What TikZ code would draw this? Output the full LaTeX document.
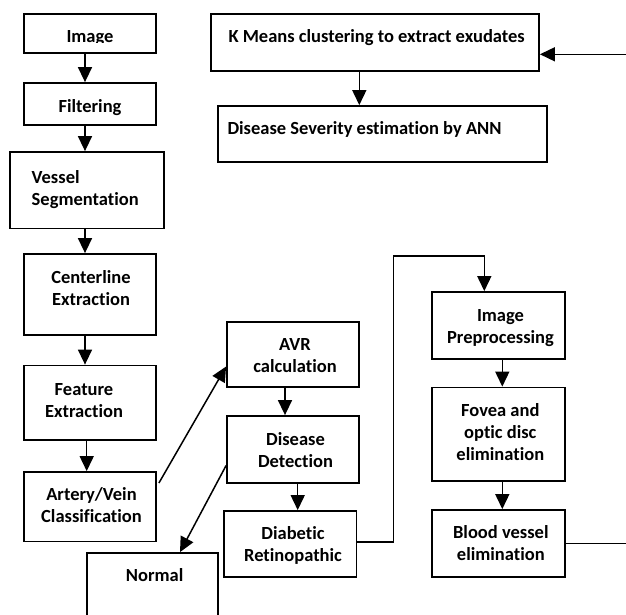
\documentclass[tikz,border=0pt]{standalone}
\usepackage{fontspec}
\setmainfont{Carlito}[Ligatures={NoCommon}]
\usetikzlibrary{arrows.meta}
\newcommand\mlc[1]{\begin{tabular}[t]{@{}c@{}}#1\end{tabular}}
\newcommand\mll[1]{\begin{tabular}[t]{@{}l@{}}#1\end{tabular}}
\begin{document}
\begin{tikzpicture}[x=1pt,y=-1pt,
  bx/.style={draw, line width=1.8pt, inner sep=0pt},
  txt/.style={inner sep=0pt, anchor=base, font=\fontsize{18.5}{22}\selectfont\bfseries},
  arr/.style={line width=1.5pt, -{Triangle[length=15pt,width=14pt]}},
  ln/.style={line width=1.5pt}]
\useasboundingbox (0,0) rectangle (626,614);
\begin{scope}
\clip (0,0) rectangle (626,614);
% boxes
\node[bx, minimum width=132pt, minimum height=39pt] (img) at (90,33.5) {};
\node[bx, minimum width=132pt, minimum height=42pt] (filt) at (90,104) {};
\node[bx, minimum width=154pt, minimum height=76.5pt] (vseg) at (87,190.25) {};
\node[bx, minimum width=132pt, minimum height=81pt] (cent) at (90,294.5) {};
\node[bx, minimum width=132pt, minimum height=74.5pt] (feat) at (90,402.75) {};
\node[bx, minimum width=132pt, minimum height=69.5pt] (avc) at (90,506.75) {};
\node[bx, minimum width=131pt, minimum height=97pt] (norm) at (152.5,601.5) {};
\node[bx, minimum width=132pt, minimum height=65pt] (avr) at (293,354.5) {};
\node[bx, minimum width=132pt, minimum height=67pt] (dd) at (293,449.5) {};
\node[bx, minimum width=132.5pt, minimum height=66pt] (dr) at (290.25,544) {};
\node[bx, minimum width=133pt, minimum height=67pt] (ip) at (498.5,325.5) {};
\node[bx, minimum width=133pt, minimum height=93.5pt] (fov) at (498.5,434.25) {};
\node[bx, minimum width=133pt, minimum height=67pt] (bv) at (498.5,543.5) {};
\node[bx, minimum width=328pt, minimum height=57pt] (km) at (375,42.5) {};
\node[bx, minimum width=329pt, minimum height=56pt] (ds) at (382.5,134) {};
% texts
\begin{scope}
\clip (24,14) rectangle (156,42.3);
\node[txt] (imgT) at (90,42) {Image};
\end{scope}
\node[txt] (filtT) at (90,112) {Filtering};
\node[txt, anchor=base west] (vsegT) at (31.5,183) {\mll{Vessel\\Segmentation}};
\node[txt] (centT) at (91,283) {\mlc{Centerline\\Extraction}};
\node[txt] (featT) at (84,395) {\mlc{Feature\\Extraction}};
\node[txt] (avcT) at (91.5,500) {\mlc{Artery/Vein\\Classification}};
\node[txt] (normT) at (154.7,581.7) {Normal};
\node[txt] (avrT) at (295,350) {\mlc{AVR\\calculation}};
\node[txt] (ddT) at (295.5,445.7) {\mlc{Disease\\Detection}};
\node[txt] (drT) at (293,539) {\mlc{Diabetic\\Retinopathic}};
\node[txt] (ipT) at (500.5,321) {\mlc{Image\\Preprocessing}};
\node[txt] (fovT) at (500.3,416) {\mlc{Fovea and\\optic disc\\elimination}};
\node[txt] (bvT) at (500.8,538.3) {\mlc{Blood vessel\\elimination}};
\node[txt, anchor=base west] (kmT) at (228.3,42.7) {K Means clustering to extract exudates};
\node[txt, anchor=base west] (dsT) at (227.3,134.3) {Disease Severity estimation by ANN};
% helper coordinates
\coordinate (xa) at (85,0);
\coordinate (xb) at (86.7,0);
\coordinate (xk) at (359.3,0);
\coordinate (xavr) at (285,0);
\coordinate (xdd) at (297.7,0);
\coordinate (xr) at (502.3,0);
\coordinate (c1) at (393.3,256);
\coordinate (xip) at (484.3,0);
\coordinate (eR) at (626,543.3);
\coordinate (eT) at (626,54.3);
% connectors
\draw[arr] (img.south -| xa) -- (filt.north -| xa);
\draw[arr] (filt.south -| xa) -- (vseg.north -| xa);
\draw[arr] (vseg.south -| xa) -- (cent.north -| xa);
\draw[arr] (cent.south -| xa) -- (feat.north -| xa);
\draw[arr] (feat.south -| xb) -- (avc.north -| xb);
\draw[arr] ([xshift=2pt,yshift=23.75pt]avc.east) -- ([yshift=-12pt]avr.west);
\draw[arr] (avr.south -| xavr) -- (dd.north -| xavr);
\draw[arr] (dd.south -| xdd) -- (dr.north -| xdd);
\draw[arr] ([yshift=-16pt]dd.west) -- ([xshift=27.5pt]norm.north);
\draw[arr] ([yshift=2pt]dr.east) -| (c1) -| (ip.north -| xip);
\draw[arr] (ip.south -| xr) -- (fov.north -| xr);
\draw[arr] (fov.south -| xr) -- (bv.north -| xr);
\draw[ln] (bv.east |- eR) -- (eR);
\draw[arr] (eT) -- (km.east |- eT);
\draw[arr] (km.south -| xk) -- (ds.north -| xk);
\end{scope}
\end{tikzpicture}
\end{document}
